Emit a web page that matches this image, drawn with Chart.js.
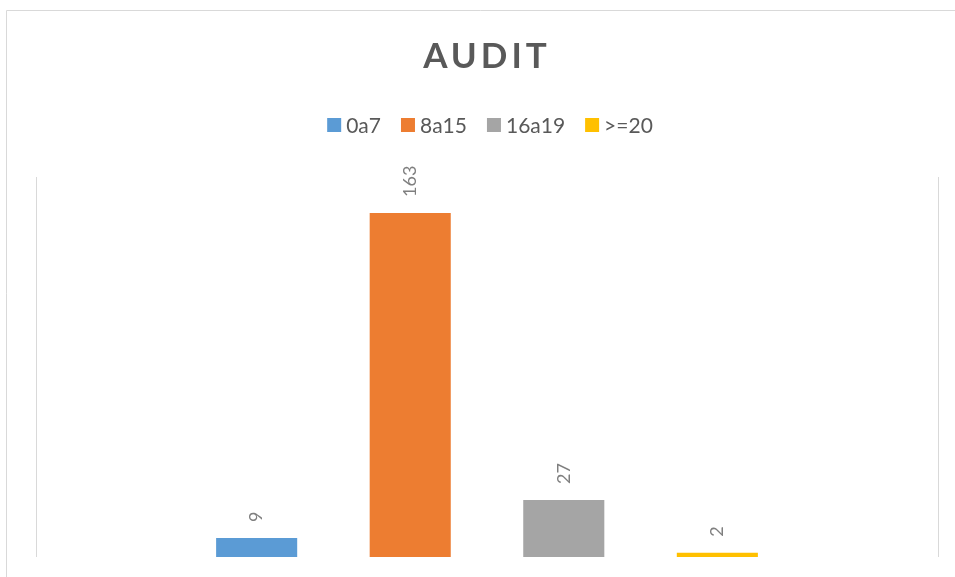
<!DOCTYPE html>
<html>
<head>
<meta charset="utf-8">
<script src="https://cdn.jsdelivr.net/npm/chart.js@4/dist/chart.umd.min.js"></script>
<style>
    html, body { margin: 0; padding: 0; background: #fff; }
    #wrap { position: relative; width: 955px; height: 577px; }
</style>
</head>
<body>
<div id="wrap"><canvas id="chart-audit" width="955" height="577"></canvas></div>
<script>
// datos de la grafica
var tituloGrafica = 'AUDIT';
var categorias = [''];
var rangos = ['0a7', '8a15', '16a19', '>=20'];
var valores = [9, 163, 27, 2];
var colores = ['#5b9bd5', '#ed7d31', '#a5a5a5', '#ffc000'];
var ejeMax = 180;

var fuente = 'Lato, "Open Sans", sans-serif';
var grisTexto = '#595959';

//Titulo, leyenda y borde exterior dibujados a mano (estilo Excel)
var decoracion = {
    id: 'decoracion',
    afterDraw: function (chart) {
        var ctx = chart.ctx;
        var centro = 487;

        ctx.save();
        // borde exterior
        ctx.strokeStyle = '#d9d9d9';
        ctx.lineWidth = 1;
        ctx.beginPath();
        ctx.moveTo(6.5, 577);
        ctx.lineTo(6.5, 10.5);
        ctx.lineTo(955, 10.5);
        ctx.stroke();

        // titulo
        ctx.fillStyle = grisTexto;
        ctx.font = 'bold 35px ' + fuente;
        ctx.letterSpacing = '4px';
        ctx.textBaseline = 'middle';
        ctx.textAlign = 'left';
        var anchoTitulo = ctx.measureText(tituloGrafica).width - 4;
        ctx.fillText(tituloGrafica, centro - 2 - anchoTitulo / 2, 57);
        ctx.letterSpacing = '0px';

        // leyenda
        ctx.font = '21px ' + fuente;
        var caja = 14, hueco = 5, sep = 20;
        var total = 0;
        chart.data.datasets.forEach(function (ds, i) {
            total += caja + hueco + ctx.measureText(ds.label).width;
            if (i > 0) total += sep;
        });
        var x = centro + 3 - total / 2;
        var y = 125;
        chart.data.datasets.forEach(function (ds) {
            ctx.fillStyle = ds.backgroundColor;
            ctx.fillRect(x, y - 7, caja, caja);
            x += caja + hueco;
            ctx.fillStyle = grisTexto;
            ctx.fillText(ds.label, x, y + 1);
            x += ctx.measureText(ds.label).width + sep;
        });
        ctx.restore();
    },
    afterDatasetsDraw: function (chart) {
        //Etiquetas de valor giradas encima de cada barra
        var ctx = chart.ctx;
        ctx.save();
        ctx.fillStyle = '#7f7f7f';
        ctx.font = '18px ' + fuente;
        ctx.textAlign = 'left';
        ctx.textBaseline = 'middle';
        chart.data.datasets.forEach(function (ds, i) {
            var meta = chart.getDatasetMeta(i);
            meta.data.forEach(function (bar, j) {
                ctx.save();
                ctx.translate(bar.x, bar.y - 16);
                ctx.rotate(-Math.PI / 2);
                ctx.fillText(String(ds.data[j]), 0, 0);
                ctx.restore();
            });
        });
        ctx.restore();
    }
};

var datasets = rangos.map(function (r, i) {
    return {
        label: r,
        data: [valores[i]],
        backgroundColor: colores[i],
        borderWidth: 0,
        categoryPercentage: 0.681,
        barPercentage: 0.528
    };
});

var chartAudit = new Chart(document.getElementById('chart-audit'), {
    type: 'bar',
    data: {
        labels: categorias,
        datasets: datasets
    },
    options: {
        responsive: false,
        animation: false,
        events: [],
        layout: {
            padding: { left: 36, right: 17, top: 177, bottom: 20 }
        },
        plugins: {
            legend: { display: false },
            title: { display: false },
            tooltip: { enabled: false }
        },
        scales: {
            x: {
                grid: {
                    display: true,
                    offset: true,
                    color: '#d9d9d9',
                    lineWidth: 1,
                    drawTicks: false
                },
                border: { display: false },
                ticks: { display: false }
            },
            y: {
                display: false,
                min: 0,
                max: ejeMax
            }
        }
    },
    plugins: [decoracion]
});
</script>
</body>
</html>
